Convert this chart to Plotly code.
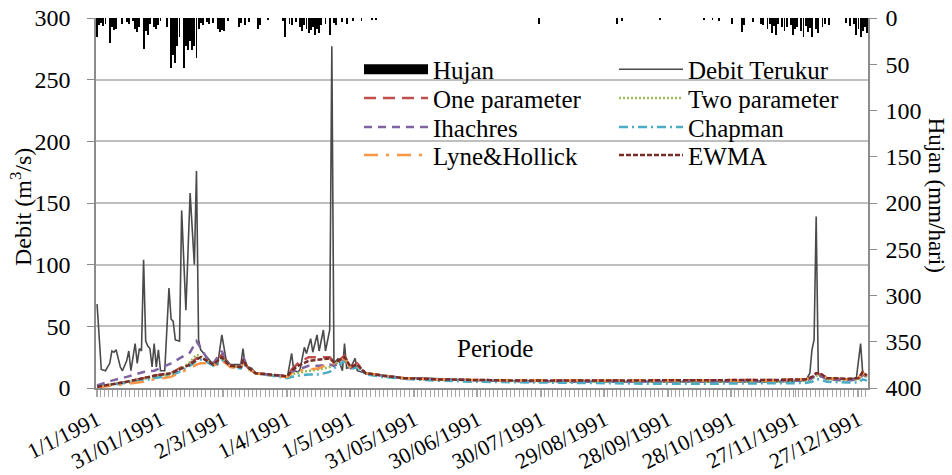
import pandas as pd
import plotly.graph_objects as go

# ---------------- data ----------------
BASE = pd.Timestamp("1991-01-01")

tick_days = [0, 30, 60, 90, 120, 150, 180, 210, 240, 270, 300, 330, 360]
tick_text = ["1/1/1991", "31/01/1991", "2/3/1991", "1/4/1991", "1/5/1991", "31/05/1991",
             "30/06/1991", "30/07/1991", "29/08/1991", "28/09/1991", "28/10/1991",
             "27/11/1991", "27/12/1991"]

# rainfall (mm/hari), day index from 1 Jan 1991 (days not listed: no rain)
rain_day = [0, 1, 2, 3, 4, 6, 7, 8, 9, 12, 14, 15, 17, 18, 19, 20, 22, 23, 24, 25, 27, 28, 29, 30,
            33, 35, 36, 37, 38, 39, 41, 42, 43, 44, 45, 46, 47, 48, 49, 50, 52, 53, 55, 57, 58, 59,
            60, 62, 67, 68, 70, 72, 76, 77, 81, 88, 89, 91, 92, 94, 96, 97, 98, 99, 100, 101, 102,
            103, 104, 105, 106, 108, 110, 112, 113, 116, 118, 121, 125, 130, 132, 209, 246, 248,
            266, 287, 291, 294, 300, 305, 306, 310, 314, 315, 317, 318, 319, 320, 321, 322, 324,
            325, 326, 328, 329, 330, 331, 333, 334, 335, 336, 337, 338, 340, 341, 343, 344, 346,
            354, 356, 358, 359, 360, 361, 362, 363, 364]
rain_mm = [20, 8, 5, 9, 6, 27, 10, 13, 12, 7, 4, 6, 3, 12, 15, 10, 33, 14, 18, 6, 10, 12, 8, 3,
           10, 54, 40, 49, 30, 20, 54, 30, 35, 25, 35, 30, 43, 12, 5, 8, 4, 6, 5, 12, 15, 13,
           14, 3, 10, 5, 8, 4, 12, 8, 2, 3, 21, 6, 8, 4, 10, 14, 8, 12, 16, 13, 10,
           18, 12, 16, 8, 7, 18, 5, 8, 4, 6, 3, 3, 2, 2, 6, 7, 3,
           2, 2, 2, 3, 7, 15, 8, 4, 6, 8, 12, 7, 16, 9, 18, 6, 10,
           14, 10, 8, 18, 12, 10, 14, 20, 9, 15, 11, 20, 12, 16, 10, 6, 8,
           5, 9, 6, 18, 12, 20, 14, 10, 16]

# observed discharge (m3/s), vertices by day index
obs_day = [0, 2, 4, 6, 7, 8, 9, 11, 12, 14, 15, 16, 18, 19, 20, 21, 22, 23, 24, 25, 26, 27, 28,
           29, 30, 32, 34, 35, 36, 37, 39, 40, 42, 44, 46, 47, 48, 49, 51, 54, 57, 59, 61, 63,
           68, 69, 70, 73, 75, 80, 88, 90, 92, 93, 95, 96, 98, 99, 101, 102, 104, 105, 107, 108,
           110, 111, 112, 114, 116, 117, 118, 120, 122, 123, 127, 133, 140, 145, 155, 165, 175,
           190, 210, 230, 250, 270, 290, 305, 320, 335, 337, 338, 339, 340, 341, 342, 345, 355,
           359, 361, 362, 364]
obs_q = [68, 15, 14, 20, 30, 29, 31, 17, 14, 22, 30, 14, 36, 20, 32, 30, 104, 38, 34, 32, 17, 36, 17,
         31, 14, 14, 81, 56, 54, 39, 38, 144, 63, 158, 100, 176, 39, 31, 27, 21, 19, 43, 23, 19,
         19, 32, 18, 16, 12, 11, 10, 9, 28, 14, 13, 15, 33, 28, 40, 29, 43, 30, 47, 30,
         47, 277, 20, 24, 14, 36, 16, 17, 24, 14, 12, 11, 9, 8, 8, 7, 6.5,
         6, 5.5, 5.5, 5, 5, 5, 5, 5, 6, 12, 31, 39, 139, 12, 9, 8, 7,
         8, 36, 12, 9]

# baseflow separation results, common vertices
bf_day = [0, 7, 14, 22, 27, 35, 40, 44, 47, 49, 52, 55, 59, 61, 63, 68, 69, 71, 75, 80, 90, 92, 95,
          100, 105, 110, 112, 114, 117, 120, 123, 127, 135, 145, 160, 180, 200, 230, 260, 290, 320,
          335, 338, 340, 342, 345, 355, 360, 362, 364]
one_param = [1, 3, 5, 8, 10, 12, 17, 20, 24, 25, 22, 19, 27, 21, 18, 17, 24, 17, 12, 11, 9.5, 15, 20,
             25, 25, 25, 21, 22, 26, 17, 20, 12, 10, 8, 7, 6.5, 6, 6, 6, 6, 6.5,
             7, 8, 10, 11, 8, 7, 8, 12, 10]
two_param = [1, 3, 5, 7, 9, 11, 16, 21, 27, 26, 22, 19, 25, 21, 18, 17, 22, 17, 12, 11, 9.5, 11, 12,
             14, 15, 17, 19, 21, 24, 16, 18, 12, 10, 8, 7, 6, 5.5, 5, 5, 5, 5,
             6, 7, 10, 10, 7, 6, 7, 10, 9]
ihachres = [2, 6, 9, 13, 14, 20, 25, 29, 38, 32, 24, 20, 30, 22, 18, 17, 26, 17, 12, 11, 9.5, 13, 15,
            18, 18, 19, 18, 20, 24, 16, 18, 12, 10, 8, 7, 6, 5.5, 5, 5, 5, 5.5,
            6, 8, 11, 10, 7, 6, 7, 11, 9]
chapman = [1, 2.5, 4, 6, 8, 10, 14, 18, 22, 23, 21, 18, 23, 20, 17, 16, 21, 16, 12, 10.5, 8, 9, 10,
           11, 11, 13, 16, 18, 22, 15, 17, 11, 9, 7.5, 6, 5, 4.5, 4, 3.5, 3.5, 3.5,
           4, 5, 7, 7, 5, 4.5, 4.5, 7, 6]
lyne_hollick = [0.5, 2, 3, 5, 7, 9, 13, 16, 19, 20, 20, 18, 22, 20, 17, 16, 20, 16, 12, 10.5, 9, 12, 14,
                15, 16, 20, 20, 21, 24, 16, 18, 12, 10, 8, 7, 6.5, 6, 6, 6, 6, 6,
                7, 9, 12, 13, 8, 7, 8, 12, 10]
ewma = [1, 3, 5, 8, 10, 12, 16, 19, 23, 25, 22, 19, 25, 21, 18, 17, 23, 17, 12, 11, 9.5, 14, 18,
        22, 23, 24, 21, 22, 25, 17, 19, 12, 10, 8, 7, 6.5, 6, 6, 6, 6, 6.5,
        7, 9, 12, 12, 8, 7.5, 8, 13, 10]


def to_dates(days):
    return [BASE + pd.Timedelta(days=d) for d in days]


FONT = "Liberation Serif"
FS = 24
LFS = 25
GRID = "#BFBFBF"
AX = "#8C8C8C"
TICKC = "#A6A6A6"

fig = go.Figure()

# rainfall bars hanging from the top (right, reversed axis)
fig.add_trace(go.Bar(x=to_dates(rain_day), y=rain_mm, yaxis="y2", name="Hujan",
                     marker=dict(color="black", line=dict(width=0)),
                     width=0.42 * 86400000, showlegend=False))
# legend proxy for the rainfall bars (wide black block like the original)
fig.add_trace(go.Scatter(x=[None], y=[None], mode="lines", name="Hujan",
                         line=dict(color="black", width=13), legend="legend"))

fig.add_trace(go.Scatter(x=to_dates(obs_day), y=obs_q, mode="lines", name="Debit Terukur",
                         line=dict(color="#4A4A4A", width=1.6), legend="legend2"))

series = [
    ("One parameter", one_param, "#C0504D", "12px,7px", "legend3"),
    ("Two parameter", two_param, "#9BBB59", "2px,2px", "legend4"),
    ("Ihachres", ihachres, "#8064A2", "8px,6px", "legend5"),
    ("Chapman", chapman, "#4BACC6", "9px,4px,2px,4px", "legend6"),
    ("Lyne&Hollick", lyne_hollick, "#F79646", "14px,8px,3px,8px", "legend7"),
    ("EWMA", ewma, "#772C2A", "5px,2px", "legend8"),
]
for name, vals, col, dash, lg in series:
    fig.add_trace(go.Scatter(x=to_dates(bf_day), y=vals, mode="lines", name=name,
                             line=dict(color=col, width=2.5, dash=dash), legend=lg))

legend_common = dict(font=dict(family=FONT, size=LFS, color="black"), bgcolor="rgba(0,0,0,0)",
                     itemwidth=64, yanchor="middle", xanchor="left",
                     itemclick=False, itemdoubleclick=False)
col_x = [0.3407, 0.671]
row_y = [0.861, 0.783, 0.705, 0.629]
legends = {}
names = ["legend", "legend2", "legend3", "legend4", "legend5", "legend6", "legend7", "legend8"]
for i, nm in enumerate(names):
    legends[nm] = dict(x=col_x[i % 2], y=row_y[i // 2], **legend_common)

fig.update_layout(
    width=952, height=475,
    margin=dict(l=96, r=84, t=18, b=87, autoexpand=False),
    plot_bgcolor="white", paper_bgcolor="white",
    font=dict(family=FONT, size=FS, color="black"),
    bargap=0,
    xaxis=dict(type="date",
               range=[BASE - pd.Timedelta(hours=12), BASE + pd.Timedelta(days=364, hours=12)],
               tickvals=to_dates(tick_days), ticktext=tick_text, tickangle=-27,
               tickfont=dict(family=FONT, size=22, color="black"),
               ticklabelstandoff=2,
               showgrid=False, showline=True, linecolor=AX, linewidth=1.5,
               ticks="outside", ticklen=7, tickcolor=TICKC, tickwidth=1,
               minor=dict(ticks="outside", ticklen=7, tickcolor=TICKC, tickwidth=1,
                          dtick=2 * 86400000, tick0=BASE - pd.Timedelta(hours=12), showgrid=False),
               zeroline=False, automargin=False),
    yaxis=dict(range=[0, 300], dtick=50, showgrid=True, gridcolor=GRID, gridwidth=1.5,
               showline=True, linecolor=AX, linewidth=1.5, ticks="outside", ticklen=7,
               tickcolor=AX, tickfont=dict(family=FONT, size=FS, color="black"),
               ticklabelstandoff=12, zeroline=False, automargin=False),
    yaxis2=dict(range=[400, 0], dtick=50, overlaying="y", side="right", showgrid=False,
                showline=True, linecolor=AX, linewidth=1.5, ticks="outside", ticklen=7,
                tickcolor=AX, tickfont=dict(family=FONT, size=FS, color="black"),
                ticklabelstandoff=4, zeroline=False, automargin=False),
    annotations=[
        dict(text="Periode", xref="paper", yref="paper", x=0.517, y=0.108, showarrow=False,
             xanchor="center", yanchor="middle",
             font=dict(family=FONT, size=LFS, color="black")),
        dict(text="Debit (m<sup>3</sup>/s)", xref="paper", yref="paper", x=-0.098, y=0.49,
             xanchor="center", yanchor="middle",
             textangle=-90, showarrow=False, font=dict(family=FONT, size=FS, color="black")),
        dict(text="Hujan (mm/hari)", xref="paper", yref="paper", x=1.088, y=0.52,
             xanchor="center", yanchor="middle",
             textangle=90, showarrow=False, font=dict(family=FONT, size=FS - 1, color="black")),
    ],
    **legends,
)

fig.write_html("out.html")
